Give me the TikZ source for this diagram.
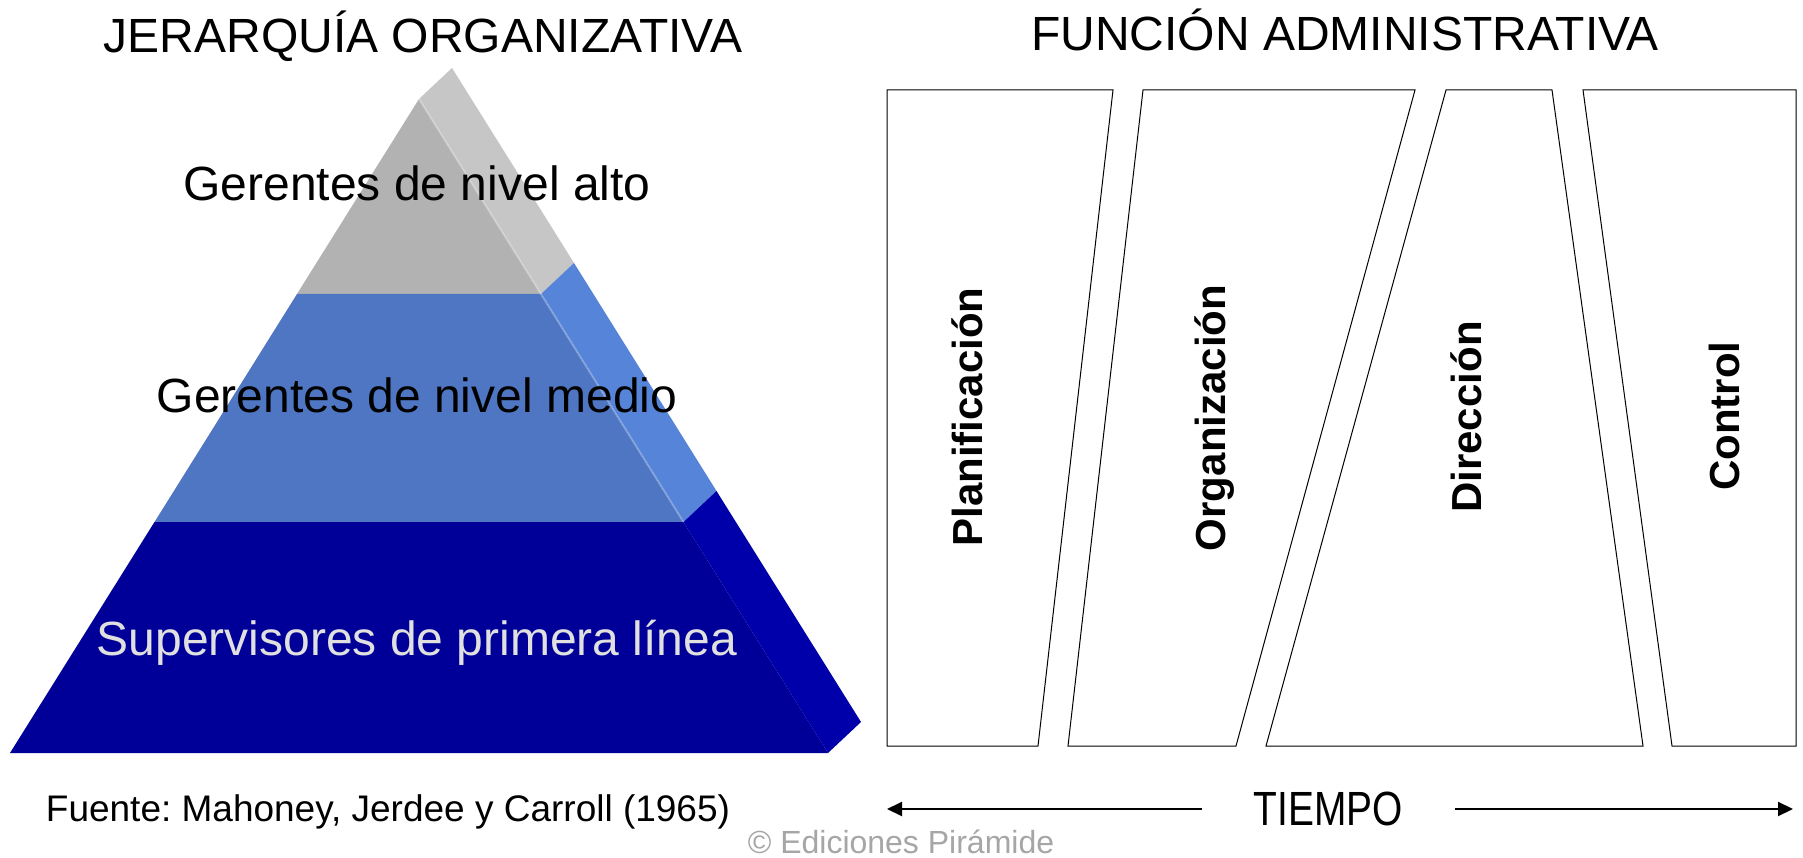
\documentclass[tikz,border=0pt]{standalone}
\usepackage{fontspec}
\setmainfont{Liberation Sans}
\newfontfamily\narrowsans[FakeStretch=0.81]{Liberation Sans}
\usetikzlibrary{calc}
\usetikzlibrary{arrows.meta}
\frenchspacing

\definecolor{greyfront}{HTML}{B2B2B2}
\definecolor{greyside}{HTML}{C6C6C6}
\definecolor{bluefront}{HTML}{4F76C2}
\definecolor{blueside}{HTML}{5584D8}
\definecolor{navyfront}{HTML}{000099}
\definecolor{navyside}{HTML}{0000AA}
\definecolor{supgrey}{HTML}{E0E0E0}
\definecolor{copygrey}{HTML}{A6A6A6}

\begin{document}
\begin{tikzpicture}[x=1pt,y=-1pt]
            \tikzset{level/.style={anchor=base,inner sep=0pt,font=\fontsize{48}{58}\selectfont}};
            \tikzset{heading/.style={anchor=base,inner sep=0pt,font=\fontsize{48}{58}\selectfont}};
            \tikzset{phase/.style={draw=black,line width=1pt,fill=white}};
            \tikzset{phaselabel/.style={rotate=90,inner sep=0pt,font=\fontsize{42}{50}\selectfont\bfseries}};
            \tikzset{timearrow/.style={line width=2pt,-{Triangle[length=15pt,width=14pt]}}};

            \fill[white] (0,0) rectangle (1803,858);
            \useasboundingbox (0,0) rectangle (1803,858);

            % titles
            \node[heading] (jer) at (423,53) {JERARQUÍA ORGANIZATIVA};
            \node[heading] (fun) at (1345,51) {FUNCIÓN ADMINISTRATIVA};

            % pyramid
            \coordinate (apex) at (419,99);
            \coordinate (l1) at (297,294);
            \coordinate (r1) at (541,294);
            \coordinate (l2) at (154.5,522);
            \coordinate (r2) at (683.5,522);
            \coordinate (l3) at (10,753);
            \coordinate (r3) at (828,753);
            \coordinate (d) at (33,-31);

            \fill[greyfront] (apex) -- (l1) -- (r1) -- cycle;
            \fill[greyside] (apex) -- (r1) -- ($(r1)+(d)$) -- ($(apex)+(d)$) -- cycle;
            \fill[bluefront] (l1) -- (l2) -- (r2) -- (r1) -- cycle;
            \fill[blueside] (r1) -- (r2) -- ($(r2)+(d)$) -- ($(r1)+(d)$) -- cycle;
            \fill[navyfront] (l2) -- (l3) -- (r3) -- (r2) -- cycle;
            \fill[navyside] (r2) -- (r3) -- ($(r3)+(d)$) -- ($(r2)+(d)$) -- cycle;
            \draw[white,opacity=0.25,line width=2pt] (apex) -- (r2);

            \node[level] (alto) at (417,201) {Gerentes de nivel alto};
            \node[level] (medio) at (417,412) {Gerentes de nivel medio};
            \node[level,text=supgrey] (sup) at (417,655) {Supervisores de primera línea};

            % phases
            \draw[phase] (887,90) -- (1113,90) -- (1038,746) -- (887,746) -- cycle;
            \draw[phase] (1143,90) -- (1415,90) -- (1236,746) -- (1068,746) -- cycle;
            \draw[phase] (1446,90) -- (1552,90) -- (1643,746) -- (1266,746) -- cycle;
            \draw[phase] (1583,90) -- (1796,90) -- (1796,746) -- (1672,746) -- cycle;

            \node[phaselabel] (plan) at (967,417) {Planificación};
            \node[phaselabel] (org) at (1215,418) {Organización};
            \node[phaselabel] (dir) at (1466,417) {Dirección};
            \node[phaselabel] (ctrl) at (1724,416) {Control};

            % bottom line
            \node[anchor=base,inner sep=0pt,font=\fontsize{37}{44}\selectfont] (fuente) at (388,821) {Fuente: Mahoney, Jerdee y Carroll (1965)};
            \node[anchor=base,inner ysep=0pt,inner xsep=52pt,font=\fontsize{48}{58}\narrowsans] (tiempo) at (1328.5,825) {TIEMPO};
            \coordinate (tleft) at (887,809);
            \coordinate (tright) at (1793,809);
            \draw[timearrow] (tiempo.west |- tleft) -- (tleft);
            \draw[timearrow] (tiempo.east |- tright) -- (tright);
            \node[anchor=base,inner sep=0pt,text=copygrey,font=\fontsize{32}{38}\selectfont] (copy) at (901,853) {© Ediciones Pirámide};
        \end{tikzpicture}
\end{document}
